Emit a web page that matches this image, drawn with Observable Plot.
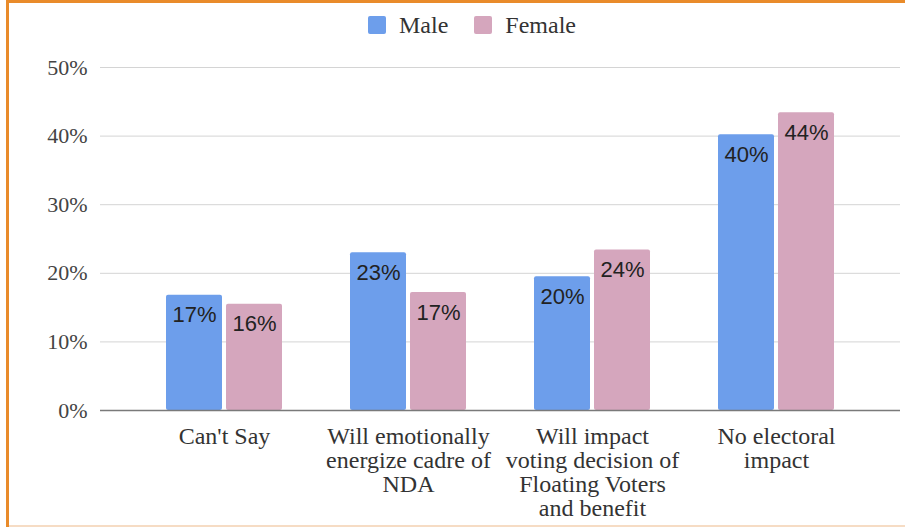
<!DOCTYPE html>
<html>
<head>
<meta charset="utf-8">
<script src="https://cdn.jsdelivr.net/npm/d3@7"></script>
<script src="https://cdn.jsdelivr.net/npm/@observablehq/plot@0.6"></script>
<style>
  html, body { margin: 0; padding: 0; background: #fff; }
  #wrap { position: relative; width: 905px; height: 528px; overflow: hidden; background: #fff; }
  .bt { position: absolute; left: 6px; top: 0; width: 899px; height: 3px; background: #e98b2a; }
  .bl { position: absolute; left: 6px; top: 0; width: 3px; height: 527px; background: #e98b2a; }
  .bb { position: absolute; left: 9px; top: 525px; width: 896px; height: 2px; background: #f6dcc4; }
  #legend { position: absolute; left: 368px; top: 0; height: 50px; display: flex; align-items: center;
            font-family: "Liberation Serif", "Times New Roman", serif; font-size: 24px; color: #333; }
  #legend .item { display: flex; align-items: center; margin-right: 26px; }
  #legend .sw { width: 18px; height: 18px; border-radius: 2px; margin-right: 13px; }
  #chart { position: absolute; left: 0; top: 50px; }
</style>
</head>
<body>
<div id="wrap">
  <div id="legend"></div>
  <div id="chart"></div>
  <div class="bt"></div><div class="bl"></div><div class="bb"></div>
</div>
<script>
const categories = [
  "Can't Say",
  "Will emotionally\nenergize cadre of\nNDA",
  "Will impact\nvoting decision of\nFloating Voters\nand benefit",
  "No electoral\nimpact"
];
const series = ["Male", "Female"];
const seriesColors = ["#6d9eeb", "#d5a6bd"];
const maleValues = [16.8, 23.0, 19.5, 40.2];
const femaleValues = [15.5, 17.2, 23.4, 43.4];
const maleLabels = ["17%", "23%", "20%", "40%"];
const femaleLabels = ["16%", "17%", "24%", "44%"];
const yTicks = [0, 10, 20, 30, 40, 50];

const male = categories.map((c, i) => ({cat: c, value: maleValues[i], label: maleLabels[i]}));
const female = categories.map((c, i) => ({cat: c, value: femaleValues[i], label: femaleLabels[i]}));

// legend
const legend = document.getElementById("legend");
series.forEach((s, i) => {
  const item = document.createElement("div");
  item.className = "item";
  const sw = document.createElement("div");
  sw.className = "sw";
  sw.style.background = seriesColors[i];
  const t = document.createElement("span");
  t.textContent = s;
  item.appendChild(sw); item.appendChild(t);
  legend.appendChild(item);
});

const serif = "Liberation Serif, Times New Roman, serif";
const sans = "Liberation Sans, Arial, sans-serif";

const chart = Plot.plot({
  width: 905,
  height: 478,
  marginLeft: 100,
  marginRight: 5,
  marginTop: 17,
  marginBottom: 118,
  x: {domain: categories, paddingInner: 0.3696, paddingOuter: 0.3587, label: null},
  y: {domain: [0, 50], label: null},
  marks: [
    Plot.gridY(yTicks, {stroke: "#d4d4d4", strokeOpacity: 1, strokeWidth: 1}),
    Plot.barY(male, {x: "cat", y: "value", fill: seriesColors[0], insetRight: 60, rx: 2}),
    Plot.barY(female, {x: "cat", y: "value", fill: seriesColors[1], insetLeft: 60, rx: 2}),
    Plot.ruleY([0], {stroke: "#7a7a7a", strokeWidth: 1.6}),
    Plot.text(male, {x: "cat", y: "value", text: "label", dx: -30, dy: 20, fontSize: 22, fontFamily: sans, fill: "#222"}),
    Plot.text(female, {x: "cat", y: "value", text: "label", dx: 30, dy: 20, fontSize: 22, fontFamily: sans, fill: "#222"}),
    Plot.axisY(yTicks, {tickSize: 0, tickPadding: 13, tickFormat: d => d + "%", fontSize: 22, fontFamily: serif, fill: "#444", label: null}),
    Plot.axisX({tickSize: 0, tickPadding: 16, fontSize: 24, fontFamily: serif, fill: "#333", lineHeight: 1.0, label: null})
  ]
});
document.getElementById("chart").appendChild(chart);
</script>
</body>
</html>
